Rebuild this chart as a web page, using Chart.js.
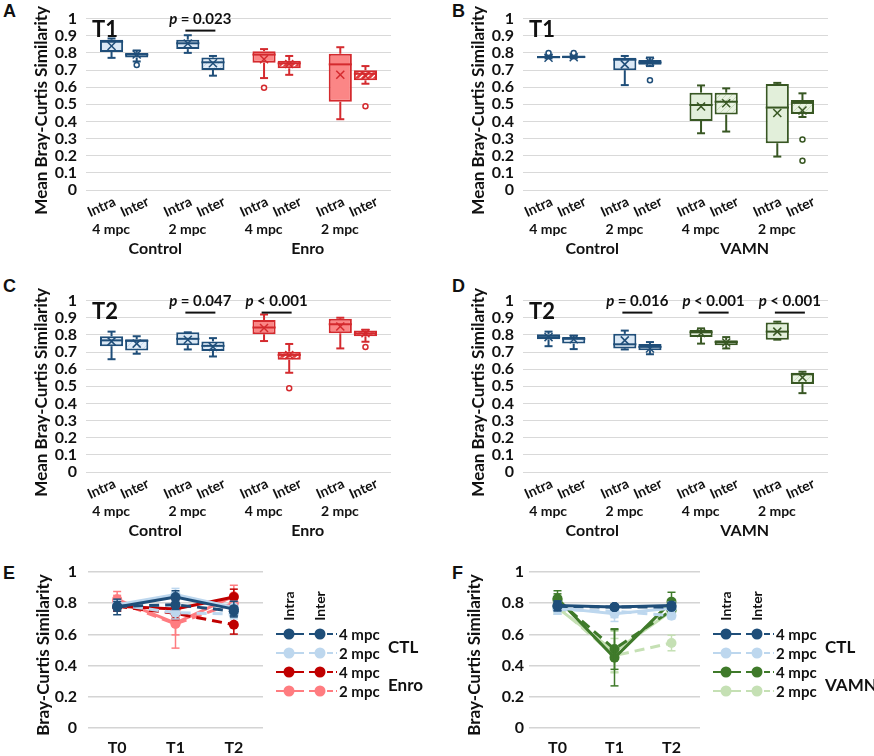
<!DOCTYPE html>
<html lang="en">
<head>
<meta charset="UTF-8">
<title>Bray-Curtis similarity</title>
<script src="https://cdn.jsdelivr.net/npm/chart.js@4.4.1/dist/chart.umd.min.js"></script>
<style>
  body { margin: 0; background: #fff; width: 874px; height: 756px; position: relative; overflow: hidden; }
  .panel { position: absolute; }
  .tag { position: absolute; font: bold 18px "Liberation Sans", Arial, sans-serif; color: #111; }
</style>
</head>
<body>
<div class="tag" style="left:3px;top:1px">A</div>
<div class="tag" style="left:452px;top:1px">B</div>
<div class="tag" style="left:3px;top:276px">C</div>
<div class="tag" style="left:452px;top:276px">D</div>
<div class="tag" style="left:3px;top:563px">E</div>
<div class="tag" style="left:452px;top:563px">F</div>

<div class="panel" style="left:0;top:0;width:437px;height:262px"><canvas id="chartA"></canvas></div>
<div class="panel" style="left:437px;top:0;width:437px;height:262px"><canvas id="chartB"></canvas></div>
<div class="panel" style="left:0;top:282px;width:437px;height:262px"><canvas id="chartC"></canvas></div>
<div class="panel" style="left:437px;top:282px;width:437px;height:262px"><canvas id="chartD"></canvas></div>
<div class="panel" style="left:0;top:545px;width:437px;height:211px"><canvas id="chartE"></canvas></div>
<div class="panel" style="left:437px;top:545px;width:437px;height:211px"><canvas id="chartF"></canvas></div>

<script>
// ---- categories ----
const seriesCats = ['Intra', 'Inter'];
const mpcCats = ['4 mpc', '2 mpc', '4 mpc', '2 mpc'];
const groupsEnro = ['Control', 'Enro'];
const groupsVamn = ['Control', 'VAMN'];
const timeCats = ['T0', 'T1', 'T2'];
const legendRows = ['4 mpc', '2 mpc', '4 mpc', '2 mpc'];

// box stats below run 4 mpc Intra, 4 mpc Inter, 2 mpc Intra, 2 mpc Inter, then the same for the treatment

// ---- A: T1, Control vs Enro ----
const aMin  = [0.771, 0.750, 0.800, 0.667, 0.653, 0.672, 0.413, 0.620];
const aQ1   = [0.805, 0.773, 0.822, 0.700, 0.742, 0.710, 0.515, 0.640];
const aMed  = [0.865, 0.790, 0.856, 0.745, 0.790, 0.739, 0.733, 0.678];
const aQ3   = [0.877, 0.800, 0.877, 0.773, 0.810, 0.754, 0.795, 0.699];
const aMax  = [0.884, 0.814, 0.903, 0.782, 0.822, 0.782, 0.833, 0.723];
const aMean = [0.840, 0.790, 0.855, 0.739, 0.763, 0.735, 0.672, 0.667];
const aOut  = [[], [0.729], [], [], [0.597], [], [], [0.489]];
const aP    = [null, '= 0.023', null, null];

// ---- B: T1, Control vs VAMN ----
const bMin  = [0.768, 0.768, 0.612, 0.723, 0.331, 0.341, 0.195, 0.426];
const bQ1   = [0.768, 0.768, 0.699, 0.731, 0.403, 0.440, 0.273, 0.443];
const bMed  = [0.775, 0.776, 0.760, 0.744, 0.496, 0.515, 0.481, 0.508];
const bQ3   = [0.782, 0.784, 0.771, 0.758, 0.568, 0.568, 0.619, 0.525];
const bMax  = [0.786, 0.786, 0.782, 0.773, 0.610, 0.593, 0.625, 0.564];
const bMean = [0.772, 0.775, 0.733, 0.748, 0.487, 0.506, 0.449, 0.464];
const bOut  = [[0.800], [0.800], [], [0.640], [], [], [], [0.294, 0.170]];
const bP    = [null, null, null, null];

// ---- C: T2, Control vs Enro ----
const cMin  = [0.658, 0.690, 0.715, 0.674, 0.764, 0.579, 0.721, 0.760];
const cQ1   = [0.734, 0.709, 0.740, 0.706, 0.804, 0.655, 0.809, 0.792];
const cMed  = [0.768, 0.765, 0.777, 0.736, 0.843, 0.683, 0.862, 0.809];
const cQ3   = [0.792, 0.774, 0.815, 0.762, 0.887, 0.702, 0.894, 0.826];
const cMax  = [0.819, 0.792, 0.815, 0.781, 0.919, 0.747, 0.900, 0.830];
const cMean = [0.762, 0.749, 0.772, 0.730, 0.840, 0.683, 0.849, 0.810];
const cOut  = [[], [], [], [], [], [0.489], [], [0.730]];
const cP    = [null, '= 0.047', '< 0.001', null];

// ---- D: T2, Control vs VAMN ----
const dMin  = [0.734, 0.717, 0.715, 0.687, 0.749, 0.721, 0.772, 0.460];
const dQ1   = [0.774, 0.749, 0.721, 0.711, 0.787, 0.740, 0.772, 0.513];
const dMed  = [0.787, 0.777, 0.745, 0.730, 0.815, 0.758, 0.819, 0.570];
const dQ3   = [0.804, 0.787, 0.806, 0.747, 0.828, 0.768, 0.872, 0.579];
const dMax  = [0.819, 0.796, 0.825, 0.758, 0.838, 0.787, 0.877, 0.585];
const dMean = [0.787, 0.774, 0.768, 0.721, 0.811, 0.755, 0.819, 0.551];
const dOut  = [[], [], [], [], [], [], [], []];
const dP    = [null, '= 0.016', '< 0.001', '< 0.001'];

// ---- E: time course, CTL and Enro (mean, sd) ----
const eCtl4Intra  = [0.776, 0.840, 0.762];
const eCtl4Inter  = [0.780, 0.790, 0.749];
const eCtl2Intra  = [0.790, 0.855, 0.772];
const eCtl2Inter  = [0.790, 0.739, 0.730];
const eEnro4Intra = [0.780, 0.763, 0.840];
const eEnro4Inter = [0.780, 0.735, 0.662];
const eEnro2Intra = [0.825, 0.672, 0.845];
const eEnro2Inter = [0.810, 0.667, 0.800];
const eSd = [
  [0.05, 0.04, 0.05], [0.03, 0.03, 0.03], [0.03, 0.04, 0.04], [0.03, 0.04, 0.03],
  [0.03, 0.06, 0.05], [0.03, 0.04, 0.06], [0.05, 0.16, 0.07], [0.04, 0.07, 0.03]
];

// ---- F: time course, CTL and VAMN (mean, sd) ----
const fCtl4Intra  = [0.785, 0.775, 0.785];
const fCtl4Inter  = [0.780, 0.775, 0.775];
const fCtl2Intra  = [0.770, 0.733, 0.768];
const fCtl2Inter  = [0.760, 0.748, 0.720];
const fVamn4Intra = [0.830, 0.450, 0.810];
const fVamn4Inter = [0.820, 0.506, 0.755];
const fVamn2Intra = [0.770, 0.490, 0.750];
const fVamn2Inter = [0.780, 0.464, 0.545];
const fSd = [
  [0.03, 0.01, 0.02], [0.03, 0.01, 0.01], [0.04, 0.05, 0.04], [0.03, 0.04, 0.02],
  [0.05, 0.18, 0.06], [0.04, 0.13, 0.02], [0.04, 0.13, 0.04], [0.04, 0.11, 0.05]
];

// ---- look ----
Chart.defaults.font.family = 'Lato, "Open Sans", sans-serif';
Chart.defaults.font.weight = 'bold';
Chart.defaults.color = '#111';

const BLUE = '#1f4e79', RED = '#d42a2e', GREEN = '#385723';
const INK = '#111';
const tickFmt = v => String(Math.round(v * 10) / 10);

function hatch(base, stroke, w) {
  const c = document.createElement('canvas');
  c.width = 6; c.height = 6;
  const g = c.getContext('2d');
  g.fillStyle = base; g.fillRect(0, 0, 6, 6);
  g.strokeStyle = stroke; g.lineWidth = w;
  g.beginPath();
  g.moveTo(0, 6); g.lineTo(6, 0);
  g.moveTo(-3, 3); g.lineTo(3, -3);
  g.moveTo(3, 9); g.lineTo(9, 3);
  g.stroke();
  return g.createPattern(c, 'repeat');
}

function line(ctx, x1, y1, x2, y2) {
  ctx.beginPath(); ctx.moveTo(x1, y1); ctx.lineTo(x2, y2); ctx.stroke();
}

// vertical axis title, centred a little below the plot middle
function yTitle(ctx, text, cx, cy, size) {
  ctx.save();
  ctx.fillStyle = INK;
  ctx.font = `bold ${size}px Lato`;
  ctx.textAlign = 'center'; ctx.textBaseline = 'middle';
  ctx.translate(cx, cy);
  ctx.rotate(-Math.PI / 2);
  ctx.fillText(text, 0, 0);
  ctx.restore();
}

function boxPlugin(st, edges, title, pvals) {
  return {
    id: 'boxes',
    afterDatasetsDraw(chart) {
      const { ctx, chartArea } = chart;
      const x = chart.scales.x, y = chart.scales.y;
      ctx.save();
      st.q1.forEach((q1, i) => {
        const el = chart.getDatasetMeta(i % 2).data[i >> 1];
        const cx = el.x, half = el.width / 2;
        ctx.strokeStyle = edges[i];
        ctx.lineWidth = 2;
        const yMax = y.getPixelForValue(st.max[i]), yMin = y.getPixelForValue(st.min[i]);
        line(ctx, cx, y.getPixelForValue(st.q3[i]), cx, yMax);
        line(ctx, cx, y.getPixelForValue(q1), cx, yMin);
        line(ctx, cx - 4, yMax, cx + 4, yMax);
        line(ctx, cx - 4, yMin, cx + 4, yMin);
        const yMed = y.getPixelForValue(st.med[i]);
        line(ctx, cx - half, yMed, cx + half, yMed);
        // mean marker
        const yMean = y.getPixelForValue(st.mean[i]);
        ctx.lineWidth = 1.5;
        line(ctx, cx - 4, yMean - 4, cx + 4, yMean + 4);
        line(ctx, cx - 4, yMean + 4, cx + 4, yMean - 4);
        // outliers
        st.out[i].forEach(v => {
          ctx.beginPath();
          ctx.arc(cx, y.getPixelForValue(v), 2.5, 0, Math.PI * 2);
          ctx.fillStyle = '#fff'; ctx.fill(); ctx.stroke();
        });
        // slanted Intra / Inter label under each box
        ctx.save();
        ctx.fillStyle = INK;
        ctx.font = 'bold 14px Lato';
        ctx.textAlign = 'center'; ctx.textBaseline = 'middle';
        ctx.translate(cx + (i % 2 ? -2 : -10), chartArea.bottom + 17);
        ctx.rotate(-25 * Math.PI / 180);
        ctx.fillText(seriesCats[i % 2], 0, 0);
        ctx.restore();
      });
      // panel title
      ctx.fillStyle = INK;
      ctx.font = 'bold 22px Lato';
      ctx.textAlign = 'left'; ctx.textBaseline = 'alphabetic';
      ctx.fillText(title, chartArea.left + 6, chartArea.top + 18);
      // significance marks
      pvals.forEach((p, g) => {
        if (!p) return;
        const gx = x.getPixelForValue(g);
        const ty = y.getPixelForValue(1) + 5;
        ctx.font = 'italic bold 15px Lato';
        const wp = ctx.measureText('p ').width;
        ctx.font = 'bold 15px Lato';
        const wr = ctx.measureText(p).width;
        const x0 = gx - (wp + wr) / 2;
        ctx.font = 'italic bold 15px Lato';
        ctx.fillText('p', x0, ty);
        ctx.font = 'bold 15px Lato';
        ctx.fillText(p, x0 + wp, ty);
        ctx.strokeStyle = INK; ctx.lineWidth = 2;
        const ly = y.getPixelForValue(0.93);
        line(ctx, gx - 15, ly, gx + 15, ly);
      });
      ctx.restore();
      yTitle(ctx, 'Mean Bray-Curtis Similarity', 42, (chartArea.top + chartArea.bottom) / 2 + 6, 17);
    }
  };
}

function boxChart(id, title, groups, st, pvals) {
  const enro = groups[1] === 'Enro';
  const other = enro ? RED : GREEN;
  const edges = st.q1.map((v, i) => i < 4 ? BLUE : other);
  const ctlIntra = '#dbe9f6', ctlInter = hatch('#e3eef8', '#c4d8ee', 1);
  const trtIntra = enro ? '#fb8686' : '#e2efda';
  const trtInter = enro ? hatch('#e23c3e', '#ffffff', 1.3) : hatch('#e8f2e1', '#c9dcbb', 1);
  const fills = st.q1.map((v, i) => i < 4 ? (i % 2 ? ctlInter : ctlIntra) : (i % 2 ? trtInter : trtIntra));

  new Chart(document.getElementById(id), {
    type: 'bar',
    data: {
      labels: mpcCats,
      datasets: seriesCats.map((name, k) => ({
        label: name,
        data: mpcCats.map((m, g) => [st.q1[2 * g + k], st.q3[2 * g + k]]),
        backgroundColor: mpcCats.map((m, g) => fills[2 * g + k]),
        borderColor: mpcCats.map((m, g) => edges[2 * g + k]),
        borderWidth: 2,
        borderSkipped: false,
        categoryPercentage: 0.66,
        barPercentage: 0.92
      }))
    },
    options: {
      responsive: true,
      maintainAspectRatio: false,
      animation: false,
      layout: { padding: { left: 0, right: 46, top: 14, bottom: 0 } },
      plugins: { legend: { display: false }, tooltip: { enabled: false } },
      scales: {
        y: {
          min: 0, max: 1,
          ticks: { stepSize: 0.1, autoSkip: false, padding: 9, callback: tickFmt,
                   font: { size: 16, weight: 'bold' }, color: INK },
          grid: { color: '#d9d9d9', lineWidth: 1, drawTicks: false },
          border: { display: false },
          afterFit: s => { s.width = 86; }
        },
        x: {
          ticks: { autoSkip: false, maxRotation: 0, padding: 31, labelOffset: -13,
                   font: { size: 14, weight: 'bold' }, color: INK },
          grid: { display: false, drawTicks: false },
          border: { display: false },
          afterFit: s => { s.height = 48; }
        },
        x2: {
          type: 'category', labels: groups, offset: true, position: 'bottom', weight: 1,
          ticks: { autoSkip: false, maxRotation: 0, padding: 1, labelOffset: -7,
                   font: { size: 16, weight: 'bold' }, color: INK },
          grid: { display: false, drawTicks: false },
          border: { display: false },
          afterFit: s => { s.height = 24; }
        }
      }
    },
    plugins: [boxPlugin(st, edges, title, pvals)]
  });
}

const errPlugin = sds => ({
  id: 'errorBars',
  afterDatasetDraw(chart, args) {
    const { ctx } = chart;
    const x = chart.scales.x, y = chart.scales.y;
    const ds = chart.data.datasets[args.index];
    ctx.save();
    ctx.strokeStyle = ds.borderColor;
    ctx.lineWidth = 1.5;
    ds.data.forEach((v, i) => {
      const cx = x.getPixelForValue(i);
      const yt = y.getPixelForValue(v + sds[args.index][i]);
      const yb = y.getPixelForValue(v - sds[args.index][i]);
      line(ctx, cx, yt, cx, yb);
      line(ctx, cx - 4, yt, cx + 4, yt);
      line(ctx, cx - 4, yb, cx + 4, yb);
    });
    ctx.restore();
  }
});

const sideLegend = (groups, titleX) => ({
  id: 'sideLegend',
  afterDraw(chart) {
    const { ctx, chartArea } = chart;
    const R = chartArea.right, T = chartArea.top;
    const dsets = chart.data.datasets;
    ctx.save();
    ctx.fillStyle = INK;
    ctx.font = 'bold 14px Lato';
    ctx.textAlign = 'center'; ctx.textBaseline = 'middle';
    [['Intra', 26], ['Inter', 57]].forEach(([t, dx]) => {
      ctx.save();
      ctx.translate(R + dx, T + 34);
      ctx.rotate(-Math.PI / 2);
      ctx.fillText(t, 0, 0);
      ctx.restore();
    });
    legendRows.forEach((lab, r) => {
      const yy = T + 62 + r * 19;
      [[13, 26], [46, 57]].forEach(([x0, cx], k) => {
        const d = dsets[r * 2 + k];
        ctx.strokeStyle = d.borderColor;
        ctx.fillStyle = d.borderColor;
        ctx.lineWidth = 2;
        ctx.setLineDash(k ? [6, 3] : []);
        line(ctx, R + x0, yy, R + x0 + 28, yy);
        ctx.setLineDash([]);
        ctx.beginPath();
        ctx.arc(R + cx, yy, 5.5, 0, Math.PI * 2);
        ctx.fill();
      });
      ctx.fillStyle = INK;
      ctx.font = 'bold 15px Lato';
      ctx.textAlign = 'left';
      ctx.fillText(lab, R + 76, yy + 1);
    });
    ctx.font = 'bold 17px Lato';
    ctx.textAlign = 'left';
    ctx.fillText(groups[0], R + 125, T + 76);
    ctx.fillText(groups[1], R + 125, T + 114);
    ctx.restore();
    yTitle(ctx, 'Bray-Curtis Similarity', titleX, (chartArea.top + chartArea.bottom) / 2 + 5, 17);
  }
});

function lineChart(id, series, sds, colors, groups, axisWidth, titleX, tickPad) {
  new Chart(document.getElementById(id), {
    type: 'line',
    data: {
      labels: timeCats,
      datasets: series.map((s, i) => ({
        data: s,
        borderColor: colors[i],
        backgroundColor: colors[i],
        borderWidth: 3,
        borderDash: i % 2 ? [10, 6] : [],
        pointRadius: 5,
        pointHoverRadius: 5,
        pointBorderWidth: 0,
        tension: 0
      }))
    },
    options: {
      responsive: true,
      maintainAspectRatio: false,
      animation: false,
      layout: { padding: { left: 0, right: 174, top: 27, bottom: 0 } },
      plugins: { legend: { display: false }, tooltip: { enabled: false } },
      scales: {
        y: {
          min: 0, max: 1,
          ticks: { stepSize: 0.2, autoSkip: false, padding: tickPad, callback: tickFmt,
                   font: { size: 16, weight: 'bold' }, color: INK },
          grid: { color: '#d4d4d4', lineWidth: 1.5, drawTicks: false },
          border: { display: false },
          afterFit: s => { s.width = axisWidth; }
        },
        x: {
          offset: true,
          ticks: { padding: 10, font: { size: 16, weight: 'bold' }, color: INK },
          grid: { display: false, drawTicks: false },
          border: { display: false },
          afterFit: s => { s.height = 28; }
        }
      }
    },
    plugins: [errPlugin(sds), sideLegend(groups, titleX)]
  });
}

boxChart('chartA', 'T1', groupsEnro,
  { min: aMin, q1: aQ1, med: aMed, q3: aQ3, max: aMax, mean: aMean, out: aOut }, aP);
boxChart('chartB', 'T1', groupsVamn,
  { min: bMin, q1: bQ1, med: bMed, q3: bQ3, max: bMax, mean: bMean, out: bOut }, bP);
boxChart('chartC', 'T2', groupsEnro,
  { min: cMin, q1: cQ1, med: cMed, q3: cQ3, max: cMax, mean: cMean, out: cOut }, cP);
boxChart('chartD', 'T2', groupsVamn,
  { min: dMin, q1: dQ1, med: dMed, q3: dQ3, max: dMax, mean: dMean, out: dOut }, dP);

lineChart('chartE',
  [eCtl4Intra, eCtl4Inter, eCtl2Intra, eCtl2Inter, eEnro4Intra, eEnro4Inter, eEnro2Intra, eEnro2Inter],
  eSd,
  ['#1f4e79', '#1f4e79', '#bdd7ee', '#bdd7ee', '#c00000', '#c00000', '#ff7c80', '#ff7c80'],
  ['CTL', 'Enro'], 88, 44, 11);
lineChart('chartF',
  [fCtl4Intra, fCtl4Inter, fCtl2Intra, fCtl2Inter, fVamn4Intra, fVamn4Inter, fVamn2Intra, fVamn2Inter],
  fSd,
  ['#1f4e79', '#1f4e79', '#bdd7ee', '#bdd7ee', '#3f7a2a', '#3f7a2a', '#c5e0b4', '#c5e0b4'],
  ['CTL', 'VAMN'], 92, 38, 5);
</script>
</body>
</html>
